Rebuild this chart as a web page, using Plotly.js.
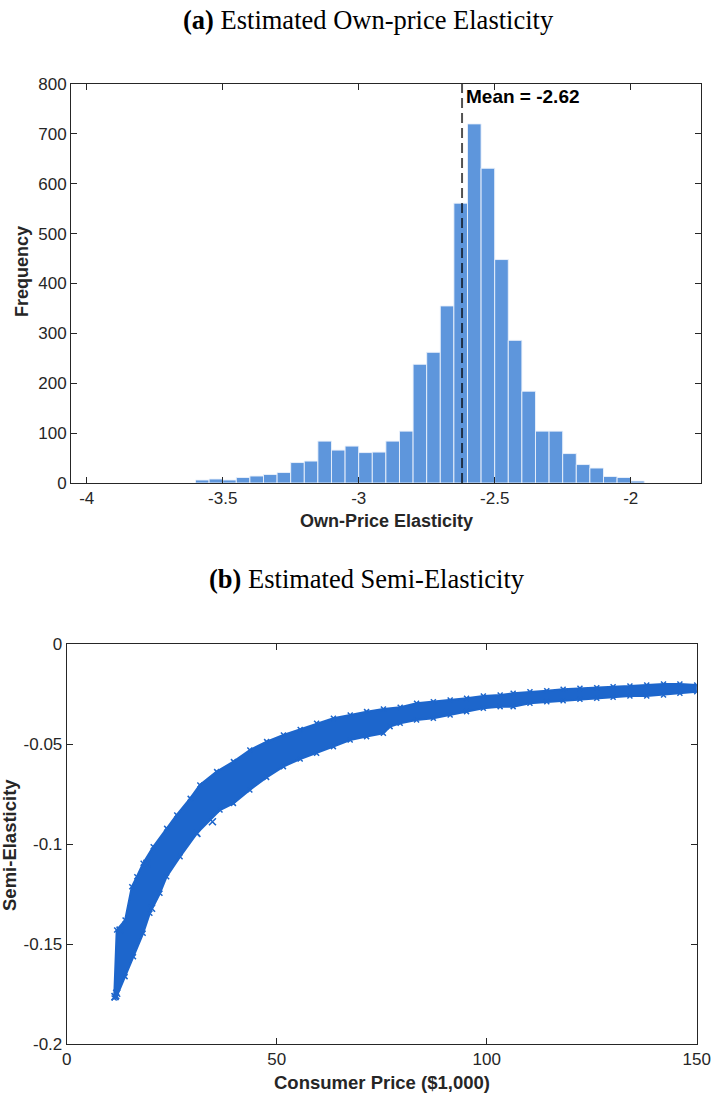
<!DOCTYPE html>
<html>
<head>
<meta charset="utf-8">
<script src="https://cdn.plot.ly/plotly-3.0.1.min.js"></script>
<style>html,body{margin:0;padding:0;background:#fff;}#chart{width:712px;height:1095px;}</style>
</head>
<body>
<div id="chart"></div>
<script>
// ---------- Panel (a): histogram of own-price elasticity ----------
const binLeft = [-3.60,-3.55,-3.50,-3.45,-3.40,-3.35,-3.30,-3.25,-3.20,-3.15,-3.10,-3.05,-3.00,-2.95,-2.90,-2.85,-2.80,-2.75,-2.70,-2.65,-2.60,-2.55,-2.50,-2.45,-2.40,-2.35,-2.30,-2.25,-2.20,-2.15,-2.10,-2.05,-2.00];
const binCounts = [6,8,6,11,14,17,21,41,44,84,66,74,61,62,84,104,238,262,355,561,720,631,448,286,184,104,104,59,37,30,13,11,4];
const binWidth = 0.05;
const meanValue = -2.62;
const meanLabel = 'Mean = -2.62';
const histXTicks = [-4,-3.5,-3,-2.5,-2];
const histXTickText = ['-4','-3.5','-3','-2.5','-2'];
const histYTicks = [0,100,200,300,400,500,600,700,800];
const histYTickText = ['0','100','200','300','400','500','600','700','800'];

// ---------- Panel (b): semi-elasticity vs consumer price ----------
// upper (less negative) edge of the point cloud
const upperX = [11.3,11.9,13.9,15.5,16.7,18.2,20.6,23.8,26.2,29.4,31.7,35.7,39.7,43.6,47.6,51.6,55.6,59.5,63.5,67.5,71.4,75.4,79.4,83.3,87.3,91.3,95.2,99.2,103.2,106.3,110.3,114.3,118.2,122.2,126.2,130.1,134.1,138.1,142.1,146.0,150.0];
const upperY = [-0.1770,-0.1430,-0.1380,-0.1213,-0.1163,-0.1096,-0.1013,-0.0921,-0.0854,-0.0771,-0.0704,-0.0637,-0.0587,-0.0529,-0.0487,-0.0454,-0.0426,-0.0395,-0.0370,-0.0354,-0.0337,-0.0324,-0.0315,-0.0295,-0.0287,-0.0279,-0.0270,-0.0259,-0.0254,-0.0245,-0.0237,-0.0232,-0.0225,-0.0220,-0.0217,-0.0212,-0.0209,-0.0204,-0.0199,-0.0199,-0.0204];
// lower (more negative) edge of the point cloud
const lowerX = [11.9,13.9,15.9,18.2,19.8,22.2,23.8,27.0,31.0,36.5,39.7,43.6,47.6,51.6,55.6,59.5,63.5,67.5,71.4,75.4,77.0,79.4,83.3,87.3,91.3,95.2,99.2,103.2,106.3,110.3,114.3,118.2,122.2,126.2,130.1,134.1,138.1,142.1,146.0,150.0];
const lowerY = [-0.1763,-0.1663,-0.1563,-0.1446,-0.1346,-0.1246,-0.1163,-0.1063,-0.0946,-0.0829,-0.0796,-0.0729,-0.0666,-0.0612,-0.0574,-0.0545,-0.0512,-0.0479,-0.0462,-0.0445,-0.0412,-0.0395,-0.0379,-0.0370,-0.0354,-0.0337,-0.0320,-0.0312,-0.0312,-0.0295,-0.0287,-0.0282,-0.0275,-0.0270,-0.0265,-0.0259,-0.0259,-0.0254,-0.0245,-0.0237];
// isolated points
const outlierX = [11.5,11.9,12.7,19.1,20.2,31.0,34.7];
const outlierY = [-0.1763,-0.1746,-0.1430,-0.1096,-0.1321,-0.0946,-0.0888];
const scatXTicks = [0,50,100,150];
const scatXTickText = ['0','50','100','150'];
const scatYTicks = [-0.2,-0.15,-0.1,-0.05,0];
const scatYTickText = ['-0.2','-0.15','-0.1','-0.05','0'];

const axisColor = '#262626';
const barColor = '#5e96dc';
const dotColor = '#1d66cc';
const sansFont = 'Liberation Sans, Arial, Helvetica, sans-serif';
const serifFont = 'Liberation Serif, Times New Roman, serif';

const bandX = upperX.concat(lowerX.slice().reverse());
const bandY = upperY.concat(lowerY.slice().reverse());

const traces = [
  {
    type: 'bar', x: binLeft, y: binCounts, width: binWidth, offset: 0,
    marker: {color: barColor, line: {color: 'rgba(235,242,252,0.9)', width: 1}},
    xaxis: 'x', yaxis: 'y', hoverinfo: 'x+y'
  },
  {
    type: 'scatter', mode: 'lines', x: bandX, y: bandY, fill: 'toself',
    fillcolor: dotColor, line: {color: dotColor, width: 2},
    xaxis: 'x2', yaxis: 'y2', hoverinfo: 'skip'
  },
  {
    type: 'scatter', mode: 'markers', x: upperX.concat(lowerX), y: upperY.concat(lowerY),
    marker: {symbol: 'x-thin', size: 5, color: dotColor, line: {color: dotColor, width: 1.5}},
    xaxis: 'x2', yaxis: 'y2'
  },
  {
    type: 'scatter', mode: 'markers', x: outlierX, y: outlierY,
    marker: {symbol: 'x-thin', size: 7, color: dotColor, line: {color: dotColor, width: 1.6}},
    xaxis: 'x2', yaxis: 'y2'
  }
];

const axisCommon = {
  showline: true, linecolor: axisColor, linewidth: 1, mirror: 'ticks',
  ticks: 'inside', ticklen: 6, tickwidth: 1, tickcolor: axisColor,
  showgrid: false, zeroline: false,
  tickfont: {family: sansFont, size: 17, color: axisColor},
  tickmode: 'array'
};

const layout = {
  width: 712, height: 1095,
  margin: {l: 0, r: 0, t: 0, b: 0},
  paper_bgcolor: '#ffffff', plot_bgcolor: '#ffffff',
  showlegend: false, bargap: 0,
  xaxis: Object.assign({}, axisCommon, {
    domain: [71/712, 701/712], range: [-4.0577, -1.7415], anchor: 'y',
    tickvals: histXTicks, ticktext: histXTickText
  }),
  yaxis: Object.assign({}, axisCommon, {
    domain: [1 - 483/1095, 1 - 84/1095], range: [0, 800], anchor: 'x',
    tickvals: histYTicks, ticktext: histYTickText
  }),
  xaxis2: Object.assign({}, axisCommon, {
    domain: [66.7/712, 696.7/712], range: [0, 150], anchor: 'y2',
    tickvals: scatXTicks, ticktext: scatXTickText
  }),
  yaxis2: Object.assign({}, axisCommon, {
    domain: [1 - 1044/1095, 1 - 644.3/1095], range: [-0.2, 0], anchor: 'x2',
    tickvals: scatYTicks, ticktext: scatYTickText
  }),
  shapes: [
    {type: 'line', xref: 'x', yref: 'y', x0: meanValue, x1: meanValue, y0: 0, y1: 800,
     line: {color: 'rgba(0,0,0,0.68)', width: 2, dash: '10px,5px'}}
  ],
  annotations: [
    {xref: 'x', yref: 'y', x: meanValue, y: 774, xanchor: 'left', yanchor: 'middle', xshift: 2,
     text: '<b>' + meanLabel + '</b>', showarrow: false,
     font: {family: sansFont, size: 19, color: '#000000'}},
    {xref: 'paper', yref: 'paper', x: 368/712, y: 1 - 20/1095, xanchor: 'center', yanchor: 'middle',
     text: '<b>(a)</b> Estimated Own-price Elasticity', showarrow: false,
     font: {family: serifFont, size: 26.5, color: '#000000'}},
    {xref: 'paper', yref: 'paper', x: 367/712, y: 1 - 579/1095, xanchor: 'center', yanchor: 'middle',
     text: '<b>(b)</b> Estimated Semi-Elasticity', showarrow: false,
     font: {family: serifFont, size: 26.5, color: '#000000'}},
    {xref: 'paper', yref: 'paper', x: 386/712, y: 1 - 521/1095, xanchor: 'center', yanchor: 'middle',
     text: '<b>Own-Price Elasticity</b>', showarrow: false,
     font: {family: sansFont, size: 18, color: axisColor}},
    {xref: 'paper', yref: 'paper', x: 22/712, y: 1 - 272/1095, xanchor: 'center', yanchor: 'middle',
     text: '<b>Frequency</b>', textangle: -90, showarrow: false,
     font: {family: sansFont, size: 18, color: axisColor}},
    {xref: 'paper', yref: 'paper', x: 382/712, y: 1 - 1082/1095, xanchor: 'center', yanchor: 'middle',
     text: '<b>Consumer Price ($1,000)</b>', showarrow: false,
     font: {family: sansFont, size: 18.5, color: axisColor}},
    {xref: 'paper', yref: 'paper', x: 9/712, y: 1 - 845/1095, xanchor: 'center', yanchor: 'middle',
     text: '<b>Semi-Elasticity</b>', textangle: -90, showarrow: false,
     font: {family: sansFont, size: 18.5, color: axisColor}}
  ]
};

Plotly.newPlot('chart', traces, layout, {displayModeBar: false, staticPlot: true});
</script>
</body>
</html>
